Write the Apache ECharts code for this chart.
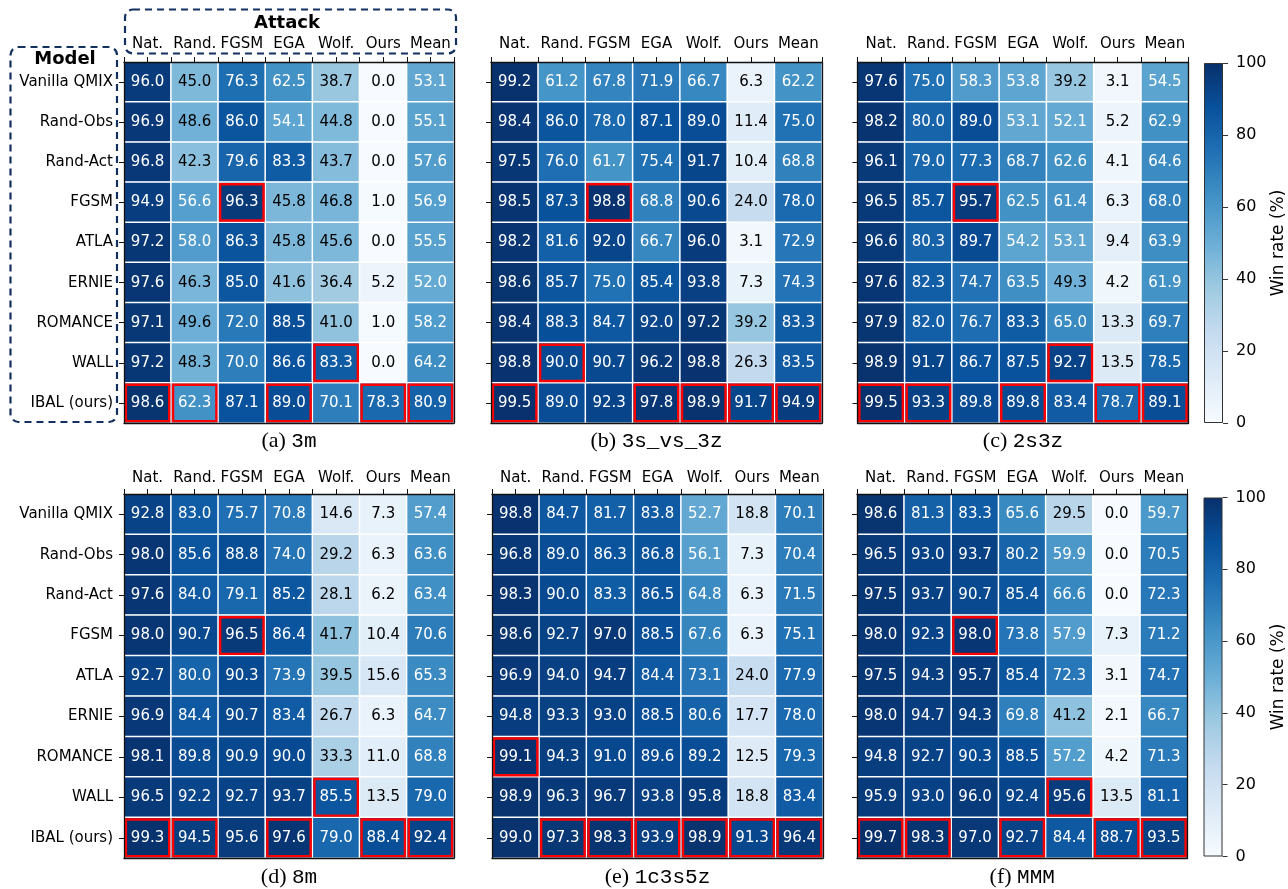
<!DOCTYPE html>
<html>
<head>
<meta charset="utf-8">
<script src="https://cdn.jsdelivr.net/npm/echarts@6/dist/echarts.min.js"></script>
<style>
  html, body { margin: 0; padding: 0; background: #ffffff; }
  #chart { width: 1288px; height: 889px; }
</style>
</head>
<body>
<div id="chart"></div>
<script>
// ---- data -------------------------------------------------------------
const attacks = ['Nat.', 'Rand.', 'FGSM', 'EGA', 'Wolf.', 'Ours', 'Mean'];
const models = ['Vanilla QMIX', 'Rand-Obs', 'Rand-Act', 'FGSM', 'ATLA', 'ERNIE', 'ROMANCE', 'WALL', 'IBAL (ours)'];
const colorbarTicks = [0, 20, 40, 60, 80, 100];

// win rate (%) per model (rows) and attack (columns)
const win3m = [
  [96.0, 45.0, 76.3, 62.5, 38.7, 0.0, 53.1],
  [96.9, 48.6, 86.0, 54.1, 44.8, 0.0, 55.1],
  [96.8, 42.3, 79.6, 83.3, 43.7, 0.0, 57.6],
  [94.9, 56.6, 96.3, 45.8, 46.8, 1.0, 56.9],
  [97.2, 58.0, 86.3, 45.8, 45.6, 0.0, 55.5],
  [97.6, 46.3, 85.0, 41.6, 36.4, 5.2, 52.0],
  [97.1, 49.6, 72.0, 88.5, 41.0, 1.0, 58.2],
  [97.2, 48.3, 70.0, 86.6, 83.3, 0.0, 64.2],
  [98.6, 62.3, 87.1, 89.0, 70.1, 78.3, 80.9]
];
const win3s_vs_3z = [
  [99.2, 61.2, 67.8, 71.9, 66.7, 6.3, 62.2],
  [98.4, 86.0, 78.0, 87.1, 89.0, 11.4, 75.0],
  [97.5, 76.0, 61.7, 75.4, 91.7, 10.4, 68.8],
  [98.5, 87.3, 98.8, 68.8, 90.6, 24.0, 78.0],
  [98.2, 81.6, 92.0, 66.7, 96.0, 3.1, 72.9],
  [98.6, 85.7, 75.0, 85.4, 93.8, 7.3, 74.3],
  [98.4, 88.3, 84.7, 92.0, 97.2, 39.2, 83.3],
  [98.8, 90.0, 90.7, 96.2, 98.8, 26.3, 83.5],
  [99.5, 89.0, 92.3, 97.8, 98.9, 91.7, 94.9]
];
const win2s3z = [
  [97.6, 75.0, 58.3, 53.8, 39.2, 3.1, 54.5],
  [98.2, 80.0, 89.0, 53.1, 52.1, 5.2, 62.9],
  [96.1, 79.0, 77.3, 68.7, 62.6, 4.1, 64.6],
  [96.5, 85.7, 95.7, 62.5, 61.4, 6.3, 68.0],
  [96.6, 80.3, 89.7, 54.2, 53.1, 9.4, 63.9],
  [97.6, 82.3, 74.7, 63.5, 49.3, 4.2, 61.9],
  [97.9, 82.0, 76.7, 83.3, 65.0, 13.3, 69.7],
  [98.9, 91.7, 86.7, 87.5, 92.7, 13.5, 78.5],
  [99.5, 93.3, 89.8, 89.8, 83.4, 78.7, 89.1]
];
const win8m = [
  [92.8, 83.0, 75.7, 70.8, 14.6, 7.3, 57.4],
  [98.0, 85.6, 88.8, 74.0, 29.2, 6.3, 63.6],
  [97.6, 84.0, 79.1, 85.2, 28.1, 6.2, 63.4],
  [98.0, 90.7, 96.5, 86.4, 41.7, 10.4, 70.6],
  [92.7, 80.0, 90.3, 73.9, 39.5, 15.6, 65.3],
  [96.9, 84.4, 90.7, 83.4, 26.7, 6.3, 64.7],
  [98.1, 89.8, 90.9, 90.0, 33.3, 11.0, 68.8],
  [96.5, 92.2, 92.7, 93.7, 85.5, 13.5, 79.0],
  [99.3, 94.5, 95.6, 97.6, 79.0, 88.4, 92.4]
];
const win1c3s5z = [
  [98.8, 84.7, 81.7, 83.8, 52.7, 18.8, 70.1],
  [96.8, 89.0, 86.3, 86.8, 56.1, 7.3, 70.4],
  [98.3, 90.0, 83.3, 86.5, 64.8, 6.3, 71.5],
  [98.6, 92.7, 97.0, 88.5, 67.6, 6.3, 75.1],
  [96.9, 94.0, 94.7, 84.4, 73.1, 24.0, 77.9],
  [94.8, 93.3, 93.0, 88.5, 80.6, 17.7, 78.0],
  [99.1, 94.3, 91.0, 89.6, 89.2, 12.5, 79.3],
  [98.9, 96.3, 96.7, 93.8, 95.8, 18.8, 83.4],
  [99.0, 97.3, 98.3, 93.9, 98.9, 91.3, 96.4]
];
const winMMM = [
  [98.6, 81.3, 83.3, 65.6, 29.5, 0.0, 59.7],
  [96.5, 93.0, 93.7, 80.2, 59.9, 0.0, 70.5],
  [97.5, 93.7, 90.7, 85.4, 66.6, 0.0, 72.3],
  [98.0, 92.3, 98.0, 73.8, 57.9, 7.3, 71.2],
  [97.5, 94.3, 95.7, 85.4, 72.3, 3.1, 74.7],
  [98.0, 94.7, 94.3, 69.8, 41.2, 2.1, 66.7],
  [94.8, 92.7, 90.3, 88.5, 57.2, 4.2, 71.3],
  [95.9, 93.0, 96.0, 92.4, 95.6, 13.5, 81.1],
  [99.7, 98.3, 97.0, 92.7, 84.4, 88.7, 93.5]
];

const panelTags = ['(a)', '(b)', '(c)', '(d)', '(e)', '(f)'];
const panelMaps = ['3m', '3s_vs_3z', '2s3z', '8m', '1c3s5z', 'MMM'];
const panelValues = [win3m, win3s_vs_3z, win2s3z, win8m, win1c3s5z, winMMM];

// ---- layout & style ---------------------------------------------------
const PANEL_BOX = [
  { left: 124,   top: 62,  width: 330,   height: 361 },
  { left: 491,   top: 62,  width: 331,   height: 361 },
  { left: 857.5, top: 62,  width: 331,   height: 361 },
  { left: 124,   top: 494, width: 330,   height: 364 },
  { left: 492,   top: 494, width: 331,   height: 364 },
  { left: 857,   top: 494, width: 330.5, height: 364 }
];
const COLORBAR_BOX = [
  { left: 1204,   top: 63,    width: 19, height: 360 },
  { left: 1203.5, top: 497.5, width: 19, height: 359 }
];
const CAPTION_Y = [441, 877];
const BLUES = ['#f7fbff', '#deebf7', '#c6dbef', '#9ecae1', '#6baed6', '#4292c6', '#2171b5', '#08519c', '#08306b'];
const FONT = 'DejaVu Sans';
const FRAME = '#111111';
const BOX_NAVY = '#13305f';

// cells holding the best value of each column get a red outline
function columnBestCells(values) {
  const cells = [];
  for (let c = 0; c < attacks.length; c++) {
    let best = -Infinity;
    values.forEach(row => { if (row[c] > best) best = row[c]; });
    values.forEach((row, r) => { if (row[c] === best) cells.push([c, r]); });
  }
  return cells;
}

const option = {
  animation: false,
  backgroundColor: '#ffffff',
  textStyle: { fontFamily: FONT },
  grid: [],
  xAxis: [],
  yAxis: [],
  series: [],
  visualMap: [{
    type: 'continuous', show: false, min: 0, max: 100, dimension: 2,
    seriesIndex: [0, 1, 2, 3, 4, 5],
    inRange: { color: BLUES }
  }],
  graphic: []
};

const frameLine = { show: true, lineStyle: { color: FRAME, width: 1.3 } };

panelValues.forEach((values, i) => {
  const box = PANEL_BOX[i];
  const bottomRow = i >= 3;
  const withRowLabels = (i % 3) === 0;
  option.grid.push({ left: box.left, top: box.top, width: box.width, height: box.height, containLabel: false, outerBoundsMode: 'none' });

  // top axis: column names + ticks on cell boundaries
  option.xAxis.push({
    type: 'category', gridIndex: i, data: attacks, position: 'top', z: 10,
    axisLine: frameLine,
    axisTick: { show: true, interval: 0, length: 5, lineStyle: { color: FRAME, width: 1 } },
    axisLabel: { show: true, interval: 0, margin: bottomRow ? 8 : 10, fontSize: 15, color: '#000', fontFamily: FONT },
    splitLine: { show: false }
  });
  // top axis: ticks at cell centres
  option.xAxis.push({
    type: 'category', gridIndex: i, data: attacks, position: 'top', z: 10,
    axisLine: { show: false },
    axisTick: { show: true, alignWithLabel: true, interval: 0, length: 5, lineStyle: { color: FRAME, width: 1 } },
    axisLabel: { show: false }, splitLine: { show: false }
  });
  // bottom frame edge
  option.xAxis.push({
    type: 'category', gridIndex: i, data: attacks, position: 'bottom', z: 10,
    axisLine: frameLine, axisTick: { show: false }, axisLabel: { show: false }, splitLine: { show: false }
  });
  // left axis: model names
  option.yAxis.push({
    type: 'category', gridIndex: i, data: models, inverse: true, position: 'left', z: 10,
    axisLine: frameLine,
    axisTick: { show: true, alignWithLabel: true, interval: 0, length: 5, lineStyle: { color: FRAME, width: 1 } },
    axisLabel: { show: withRowLabels, interval: 0, margin: 11, fontSize: 15, color: '#000', fontFamily: FONT },
    splitLine: { show: false }
  });
  // right frame edge
  option.yAxis.push({
    type: 'category', gridIndex: i, data: models, inverse: true, position: 'right', z: 10,
    axisLine: frameLine, axisTick: { show: false }, axisLabel: { show: false }, splitLine: { show: false }
  });

  const cells = [];
  values.forEach((row, r) => row.forEach((v, c) => {
    cells.push({ value: [c, r, v], label: { color: v < 50 ? '#000000' : '#ffffff' } });
  }));
  option.series.push({
    type: 'heatmap', xAxisIndex: i * 3, yAxisIndex: i * 2, data: cells, z: 2,
    itemStyle: { borderColor: '#ffffff', borderWidth: 1.5 },
    label: { show: true, fontSize: 15, fontFamily: FONT, formatter: p => p.value[2].toFixed(1) },
    emphasis: { disabled: true }
  });
});

// red outlines for the column bests
panelValues.forEach((values, i) => {
  option.series.push({
    type: 'custom', coordinateSystem: 'cartesian2d', xAxisIndex: i * 3, yAxisIndex: i * 2,
    z: 5, silent: true,
    data: columnBestCells(values),
    renderItem: (params, api) => {
      const c = api.coord([api.value(0), api.value(1)]);
      const s = api.size([1, 1]);
      const inset = 1.9;
      return {
        type: 'rect',
        shape: { x: c[0] - s[0] / 2 + inset, y: c[1] - s[1] / 2 + inset, width: s[0] - 2 * inset, height: s[1] - 2 * inset },
        style: { fill: 'none', stroke: '#ff0000', lineWidth: 2.4 }
      };
    }
  });
});

// colour bars (one per row of panels)
COLORBAR_BOX.forEach((box, k) => {
  const gi = 6 + k;
  option.grid.push({ left: box.left, top: box.top, width: box.width, height: box.height, containLabel: false, outerBoundsMode: 'none' });
  const xi = option.xAxis.length;
  const yi = option.yAxis.length;
  option.xAxis.push({ type: 'category', gridIndex: gi, data: ['win'], show: false });
  option.yAxis.push({
    type: 'value', gridIndex: gi, position: 'right', z: 10,
    min: colorbarTicks[0], max: colorbarTicks[colorbarTicks.length - 1],
    interval: colorbarTicks[1] - colorbarTicks[0],
    axisLine: { show: false },
    axisTick: { show: true, length: 5, lineStyle: { color: '#333', width: 1 } },
    axisLabel: { show: true, margin: 13, fontSize: 16, color: '#000', fontFamily: FONT },
    splitLine: { show: false },
    name: 'Win rate (%)', nameLocation: 'middle', nameRotate: 90, nameGap: 46,
    nameTextStyle: { fontSize: 17, color: '#000', fontFamily: FONT }
  });
  option.series.push({
    type: 'bar', xAxisIndex: xi, yAxisIndex: yi, silent: true, z: 2,
    data: [colorbarTicks[colorbarTicks.length - 1]], barWidth: '100%',
    itemStyle: {
      color: {
        type: 'linear', x: 0, y: 1, x2: 0, y2: 0,
        colorStops: BLUES.map((col, j) => ({ offset: j / (BLUES.length - 1), color: col }))
      },
      borderColor: '#333', borderWidth: 1
    }
  });
});

// captions below each panel
panelValues.forEach((values, i) => {
  const box = PANEL_BOX[i];
  option.graphic.push({
    type: 'text', silent: true,
    x: box.left + box.width / 2, y: CAPTION_Y[i >= 3 ? 1 : 0],
    style: {
      text: '{p|' + panelTags[i] + ' }{m|' + panelMaps[i] + '}',
      align: 'center', verticalAlign: 'middle', fill: '#000',
      rich: {
        p: { fontFamily: 'Liberation Serif', fontSize: 22, fill: '#000' },
        m: { fontFamily: 'Liberation Mono', fontSize: 21, fill: '#000' }
      }
    }
  });
});

// dashed group boxes with their headings
option.graphic.push(
  {
    type: 'rect', silent: true, z: 20,
    shape: { x: 125, y: 9.5, width: 331, height: 44, r: 8 },
    style: { fill: 'none', stroke: BOX_NAVY, lineWidth: 2.2, lineDash: [7, 5] }
  },
  {
    type: 'rect', silent: true, z: 20,
    shape: { x: 10.5, y: 47, width: 106.5, height: 375, r: 8 },
    style: { fill: 'none', stroke: BOX_NAVY, lineWidth: 2.2, lineDash: [7, 5] }
  },
  {
    type: 'text', silent: true, x: 287, y: 23.5,
    style: { text: 'Attack', font: 'bold 18px "DejaVu Sans"', fill: '#000', align: 'center', verticalAlign: 'middle' }
  },
  {
    type: 'text', silent: true, x: 65, y: 59.5,
    style: { text: 'Model', font: 'bold 18px "DejaVu Sans"', fill: '#000', align: 'center', verticalAlign: 'middle' }
  }
);

const chart = echarts.init(document.getElementById('chart'), null, { renderer: 'canvas', width: 1288, height: 889 });
chart.setOption(option);
</script>
</body>
</html>
